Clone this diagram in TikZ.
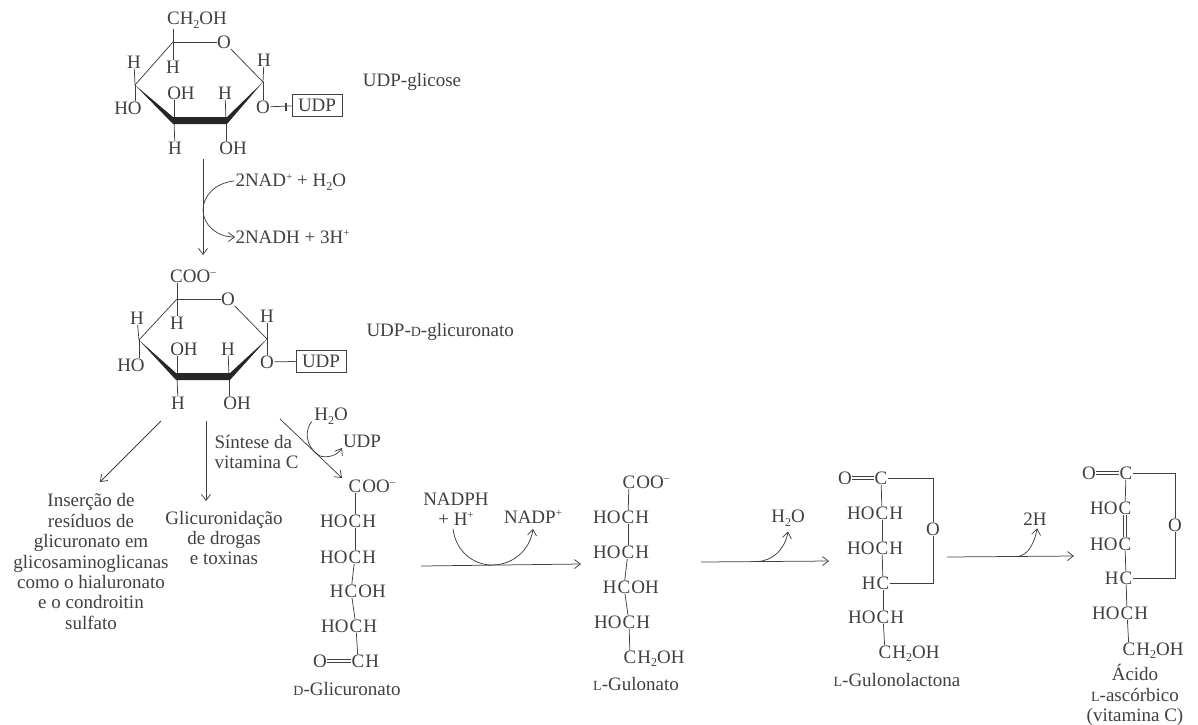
\documentclass[tikz,border=0pt]{standalone}
\usepackage{fontspec}
\setmainfont{Liberation Serif}
\usetikzlibrary{arrows.meta}
\newcommand\chsub[1]{\raisebox{-3.5pt}{\fontsize{12}{12}\selectfont #1}}
\newcommand\chsup[1]{\raisebox{6.5pt}{\fontsize{11}{11}\selectfont #1}}
\newcommand\smc[1]{{\fontsize{14}{14}\selectfont #1}}
\definecolor{ink}{HTML}{404040}
\tikzset{
  atom/.style={inner sep=0.3pt,text=ink,font=\fontsize{19}{20.4}\selectfont},
  bond/.style={draw=ink,line width=0.75pt},
  rxn/.style={bond,-{Straight Barb[length=6pt,width=9pt]}},
  dbl/.style={draw=ink,double=white,double distance=2pt,line width=0.7pt},
  boxed/.style={atom,draw=ink,line width=0.8pt,minimum width=50pt,minimum height=22pt,inner sep=0pt},
  wedge/.style={fill=black!85}
}
% row of a chain: left text, carbon, right text
\newcommand\row[5]{%
  \node[atom] (#1) at (#2,#3) {C};
  \node[atom,anchor=base east] (#1l) at (#1.base west) {#4};
  \node[atom,anchor=base west] (#1r) at (#1.base east) {#5};}
\begin{document}
\begin{tikzpicture}[x=1pt,y=-1pt]
\useasboundingbox (0,0) rectangle (1198,724);

%% UDP-glucose
\coordinate (at) at (173,42);
\coordinate (ar) at (263,82);
\coordinate (al) at (135,85);
\coordinate (abl) at (174,120.5);
\coordinate (abr) at (226,120.5);
\node[atom] (ach) at (197,20) {CH\chsub{2}OH};
\node[atom] (ao) at (224,42) {O};
\node[atom] (ahr) at (264,60) {H};
\node[atom] (ahl) at (134,62) {H};
\node[atom] (aht) at (173,67) {H};
\node[atom] (aho) at (128,108) {HO};
\node[atom] (aoh1) at (181,93) {OH};
\node[atom] (ah2) at (225,93) {H};
\node[atom] (ah3) at (175,148) {H};
\node[atom] (aoh2) at (233,148) {OH};
\node[atom] (aoo) at (263,107) {O};
\node[boxed] (audp) at (317,105) {UDP};
\node[atom] (alab) at (412,82) {UDP-glicose};
\draw[bond] (at) -- (ao);
\draw[bond] (ao) -- (ar);
\draw[bond] (at) -- (al);
\draw[bond] (at) -- (ach.south -| at);
\draw[bond] (at) -- (aht);
\draw[bond] (ar) -- (ahr);
\draw[bond] (ar) -- (aoo);
\draw[bond] (al) -- (ahl);
\draw[bond] (al) -- (aho.north -| al);
\draw[bond] (abl) -- (aoh1.south -| abl);
\draw[bond] (abr) -- (ah2);
\draw[bond] (abl) -- (ah3);
\draw[bond] (abr) -- (aoh2.north -| abr);
\draw[bond] (aoo) -- (audp);
\draw[ink,line width=2.2pt] (286,102.5) -- (286,111);
\fill[wedge] (al) -- ([xshift=-1pt,yshift=-3.5pt]abl) -- ([xshift=1pt,yshift=-3.5pt]abr) -- (ar) -- ([xshift=1pt,yshift=3.5pt]abr) -- ([xshift=-1pt,yshift=3.5pt]abl) -- cycle;

%% first step
\coordinate (s1a) at (203,159);
\coordinate (s1b) at (203,255);
\coordinate (s1m) at (203,210);
\node[atom,anchor=west] (nad) at (235,182) {2NAD\chsup{+} + H\chsub{2}O};
\node[atom,anchor=west] (nadh) at (235,237) {2NADH + 3H\chsup{+}};
\draw[rxn] (s1a) -- (s1b);
\draw[bond] (nad.west) ++(-1,-1) .. controls (215,183) and (203,196) .. (s1m);
\draw[rxn] (s1m) .. controls (203,224) and (216,237) .. (nadh.west);

%% UDP-D-glucuronate
\coordinate (bt) at (177,299);
\coordinate (br) at (267,339);
\coordinate (bl) at (139,340);
\coordinate (bbl) at (177,376.5);
\coordinate (bbr) at (229,376.5);
\node[atom] (bco) at (193,276) {COO\chsup{–}};
\node[atom] (bo) at (228,299) {O};
\node[atom] (bhr) at (267,316) {H};
\node[atom] (bhl) at (137,318) {H};
\node[atom] (bht) at (177,323) {H};
\node[atom] (bho) at (131,365) {HO};
\node[atom] (boh1) at (184,349) {OH};
\node[atom] (bh2) at (228,349) {H};
\node[atom] (bh3) at (178,403) {H};
\node[atom] (boh2) at (237,403) {OH};
\node[atom] (boo) at (267,362) {O};
\node[boxed] (budp) at (321,361) {UDP};
\node[atom,anchor=west] (blab) at (366,332) {UDP-\smc{D}-glicuronato};
\draw[bond] (bt) -- (bo);
\draw[bond] (bo) -- (br);
\draw[bond] (bt) -- (bl);
\draw[bond] (bt) -- (bco.south -| bt);
\draw[bond] (bt) -- (bht);
\draw[bond] (br) -- (bhr);
\draw[bond] (br) -- (boo);
\draw[bond] (bl) -- (bhl);
\draw[bond] (bl) -- (bho.north -| bl);
\draw[bond] (bbl) -- (boh1.south -| bbl);
\draw[bond] (bbr) -- (bh2);
\draw[bond] (bbl) -- (bh3);
\draw[bond] (bbr) -- (boh2.north -| bbr);
\draw[bond] (boo) -- (budp);
\fill[wedge] (bl) -- ([xshift=-1pt,yshift=-3.5pt]bbl) -- ([xshift=1pt,yshift=-3.5pt]bbr) -- (br) -- ([xshift=1pt,yshift=3.5pt]bbr) -- ([xshift=-1pt,yshift=3.5pt]bbl) -- cycle;

%% branches
\coordinate (d1a) at (161,421);
\coordinate (d1b) at (100,482);
\coordinate (d2a) at (206,421);
\coordinate (d2b) at (206,501);
\coordinate (d3a) at (280,419);
\coordinate (d3b) at (342,478);
\coordinate (d3m) at (320,456);
\draw[rxn] (d1a) -- (d1b);
\draw[rxn] (d2a) -- (d2b);
\draw[rxn] (d3a) -- (d3b);
\node[atom] (wh2o) at (331,416) {H\chsub{2}O};
\node[atom] (wudp) at (362,441) {UDP};
\draw[bond] (wh2o.south west) ++(-2,-3) .. controls (306,428) and (303,445) .. (d3m);
\draw[rxn] (d3m) .. controls (327,458) and (337,456) .. (342,448);
\node[atom,anchor=west,align=left] (synth) at (214,452) {Síntese da\\vitamina C};
\node[atom,align=center] (ins) at (91,561.5) {Inserção de\\resíduos de\\glicuronato em\\glicosaminoglicanas\\como o hialuronato\\e o condroitin\\sulfato};
\node[atom,align=center] (gluc) at (224,538) {Glicuronidação\\de drogas\\e toxinas};

%% D-glucuronate
\node[atom] (c0) at (355,486) {C};
\node[atom,anchor=base west] (c0r) at (c0.base east) {OO\chsup{–}};
\row{c1}{355}{521}{HO}{H}
\row{c2}{355}{557}{HO}{H}
\row{c3}{351}{591}{H}{OH}
\row{c4}{356}{626}{HO}{H}
\node[atom] (c5) at (358,661) {C};
\node[atom,anchor=base west] (c5r) at (c5.base east) {H};
\node[atom] (c5o) at (320,661) {O};
\draw[bond] (c0) -- (c1);
\draw[bond] (c1) -- (c2);
\draw[bond] (c2) -- (c3);
\draw[bond] (c3) -- (c4);
\draw[bond] (c4) -- (c5);
\draw[dbl] (c5o) -- (c5);
\node[atom] (clab) at (347,689) {\smc{D}-Glicuronato};

%% reaction 2
\coordinate (r1a) at (421,566);
\coordinate (r1b) at (581,564);
\coordinate (r1m) at (492,565);
\draw[rxn] (r1a) -- (r1b);
\node[atom,align=center] (nadph) at (456,509) {NADPH\\+ H\chsup{+}};
\node[atom] (nadp) at (533,517) {NADP\chsup{+}};
\draw[bond] ([xshift=-3pt,yshift=-3pt]nadph.south) .. controls (456,552) and (474,565) .. (r1m);
\draw[rxn] (r1m) .. controls (513,565) and (530,550) .. ([yshift=-5pt]nadp.south);

%% L-gulonate
\node[atom] (e0) at (629,482) {C};
\node[atom,anchor=base west] (e0r) at (e0.base east) {OO\chsup{–}};
\row{e1}{628}{517}{HO}{H}
\row{e2}{628}{552}{HO}{H}
\row{e3}{624}{587}{H}{OH}
\row{e4}{629}{622}{HO}{H}
\node[atom] (e5) at (630,657) {C};
\node[atom,anchor=base west] (e5r) at (e5.base east) {H\chsub{2}OH};
\draw[bond] (e0) -- (e1);
\draw[bond] (e1) -- (e2);
\draw[bond] (e2) -- (e3);
\draw[bond] (e3) -- (e4);
\draw[bond] (e4) -- (e5);
\node[atom] (elab) at (636,684) {\smc{L}-Gulonato};

%% reaction 3
\coordinate (r2a) at (701,562);
\coordinate (r2b) at (829,561);
\coordinate (r2m) at (757,561.5);
\draw[rxn] (r2a) -- (r2b);
\node[atom] (wa) at (788,518) {H\chsub{2}O};
\draw[rxn] (r2m) .. controls (773,561) and (785,549) .. ([yshift=-5pt]wa.south);

%% L-gulonolactone
\node[atom] (f0) at (881,478) {C};
\node[atom] (f0o) at (845,478) {O};
\row{f1}{882}{513}{HO}{H}
\row{f2}{882}{548}{HO}{H}
\node[atom] (f3) at (883,583) {C};
\node[atom,anchor=base east] (f3l) at (f3.base west) {H};
\row{f4}{883}{617}{HO}{H}
\node[atom] (f5) at (885,652) {C};
\node[atom,anchor=base west] (f5r) at (f5.base east) {H\chsub{2}OH};
\node[atom] (fo) at (933,529) {O};
\draw[dbl] (f0o) -- (f0);
\draw[bond] (f0) -- (f1);
\draw[bond] (f1) -- (f2);
\draw[bond] (f2) -- (f3);
\draw[bond] (f3) -- (f4);
\draw[bond] (f4) -- (f5);
\draw[bond] (f0) -- (f0 -| fo) -- (fo);
\draw[bond] (fo) -- (f3 -| fo) -- (f3);
\node[atom] (flab) at (897,680) {\smc{L}-Gulonolactona};

%% reaction 4
\coordinate (r3a) at (947,557);
\coordinate (r3b) at (1074,556);
\coordinate (r3m) at (1017,556.5);
\draw[rxn] (r3a) -- (r3b);
\node[atom] (th) at (1035,519) {2H};
\draw[rxn] (r3m) .. controls (1028,556) and (1035,542) .. ([xshift=2pt,yshift=-2.5pt]th.south);

%% ascorbic acid
\node[atom] (g0) at (1126,473) {C};
\node[atom] (g0o) at (1089,473) {O};
\node[atom] (g1) at (1125,508) {C};
\node[atom,anchor=base east] (g1l) at (g1.base west) {HO};
\node[atom] (g2) at (1125,544) {C};
\node[atom,anchor=base east] (g2l) at (g2.base west) {HO};
\node[atom] (g3) at (1126,578) {C};
\node[atom,anchor=base east] (g3l) at (g3.base west) {H};
\row{g4}{1127}{613}{HO}{H}
\node[atom] (g5) at (1129,649) {C};
\node[atom,anchor=base west] (g5r) at (g5.base east) {H\chsub{2}OH};
\node[atom] (go) at (1175,525) {O};
\draw[dbl] (g0o) -- (g0);
\draw[bond] (g0) -- (g1);
\draw[dbl] (g1) -- (g2);
\draw[bond] (g2) -- (g3);
\draw[bond] (g3) -- (g4);
\draw[bond] (g4) -- (g5);
\draw[bond] (g0) -- (g0 -| go) -- (go);
\draw[bond] (go) -- (g3 -| go) -- (g3);
\node[atom,align=center] (glab) at (1135,695) {Ácido\\\smc{L}-ascórbico\\(vitamina C)};
\end{tikzpicture}
\end{document}
